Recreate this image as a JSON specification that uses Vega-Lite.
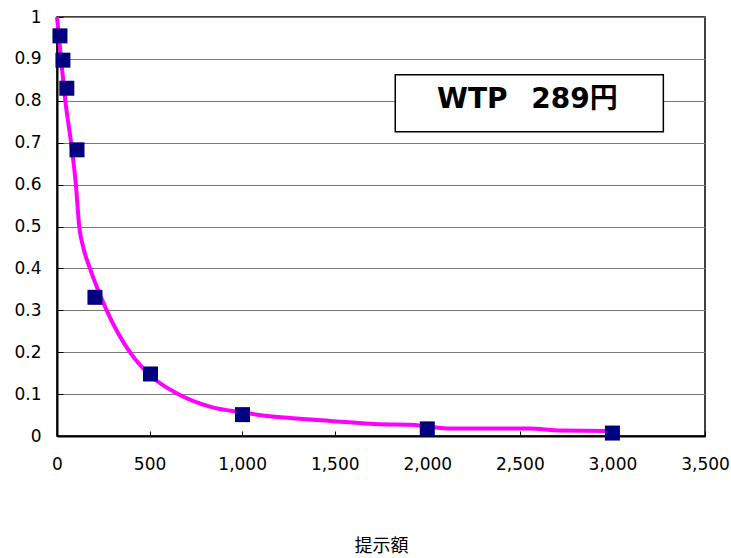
{
  "$schema": "https://vega.github.io/schema/vega-lite/v6.json",
  "width": 648,
  "height": 419,
  "autosize": {"type": "none"},
  "padding": {"left": 57, "top": 17, "right": 26, "bottom": 122},
  "background": "white",
  "config": {
    "view": {"stroke": "black", "strokeWidth": 1.5},
    "axis": {"labelFont": "DejaVu Sans", "labelFontSize": 17, "labelColor": "black", "titleFont": "Noto Sans CJK JP", "titleFontSize": 18, "titleFontWeight": "normal", "titleColor": "black"}
  },
  "datasets": {
    "points": [
      {"price": 16, "share": 0.955},
      {"price": 32, "share": 0.897},
      {"price": 53, "share": 0.83},
      {"price": 108, "share": 0.683},
      {"price": 205, "share": 0.331},
      {"price": 505, "share": 0.148},
      {"price": 1002, "share": 0.051},
      {"price": 2000, "share": 0.017},
      {"price": 3000, "share": 0.007}
    ],
    "curve": [
      {"price": 0, "share": 1.0},
      {"price": 22, "share": 0.9},
      {"price": 45, "share": 0.8},
      {"price": 76, "share": 0.7},
      {"price": 102, "share": 0.6},
      {"price": 120, "share": 0.5},
      {"price": 142, "share": 0.45},
      {"price": 178, "share": 0.4},
      {"price": 220, "share": 0.35},
      {"price": 268, "share": 0.3},
      {"price": 394, "share": 0.2},
      {"price": 500, "share": 0.146},
      {"price": 646, "share": 0.102},
      {"price": 826, "share": 0.07},
      {"price": 1003, "share": 0.056},
      {"price": 1113, "share": 0.049},
      {"price": 1259, "share": 0.043},
      {"price": 1475, "share": 0.036},
      {"price": 1745, "share": 0.028},
      {"price": 1908, "share": 0.027},
      {"price": 2016, "share": 0.022},
      {"price": 2124, "share": 0.018},
      {"price": 2286, "share": 0.018},
      {"price": 2550, "share": 0.018},
      {"price": 2720, "share": 0.013},
      {"price": 3000, "share": 0.012}
    ],
    "note": [
      {"x1": 1827, "x2": 3275, "y1": 0.862, "y2": 0.726, "xc": 2541, "yc": 0.783, "label": "WTP\u2002 289円"}
    ]
  },
  "layer": [
    {
      "data": {"name": "curve"},
      "mark": {"type": "line", "color": "#FF00FF", "strokeWidth": 4, "interpolate": "monotone"},
      "encoding": {
        "x": {"field": "price", "type": "quantitative",
          "scale": {"domain": [0, 3500], "nice": false},
          "axis": {"title": "提示額", "titlePadding": 65, "values": [0, 500, 1000, 1500, 2000, 2500, 3000, 3500], "format": ",.0f", "grid": false, "domainColor": "black", "domainWidth": 2, "tickColor": "black", "tickSize": -5, "labelPadding": 25, "labelFlush": false}},
        "y": {"field": "share", "type": "quantitative",
          "scale": {"domain": [0, 1], "nice": false},
          "axis": {"title": null, "values": [0, 0.1, 0.2, 0.3, 0.4, 0.5, 0.6, 0.7, 0.8, 0.9, 1], "format": "~g", "grid": true, "gridColor": "#777", "gridWidth": 1, "gridOpacity": 1, "domainColor": "black", "domainWidth": 2, "tickColor": "black", "tickSize": -6, "labelPadding": 22}}
      }
    },
    {
      "data": {"name": "points"},
      "mark": {"type": "point", "shape": "square", "filled": true, "size": 225, "color": "#000080", "opacity": 1},
      "encoding": {
        "x": {"field": "price", "type": "quantitative"},
        "y": {"field": "share", "type": "quantitative"}
      }
    },
    {
      "data": {"name": "note"},
      "mark": {"type": "rect", "fill": "white", "stroke": "black", "strokeWidth": 1.5},
      "encoding": {
        "x": {"field": "x1", "type": "quantitative"},
        "x2": {"field": "x2"},
        "y": {"field": "y1", "type": "quantitative"},
        "y2": {"field": "y2"}
      }
    },
    {
      "data": {"name": "note"},
      "mark": {"type": "text", "font": "DejaVu Sans, Noto Sans CJK JP", "fontSize": 28, "fontWeight": "bold", "color": "black", "align": "center", "baseline": "alphabetic"},
      "encoding": {
        "x": {"field": "xc", "type": "quantitative"},
        "y": {"field": "yc", "type": "quantitative"},
        "text": {"field": "label"}
      }
    }
  ]
}
